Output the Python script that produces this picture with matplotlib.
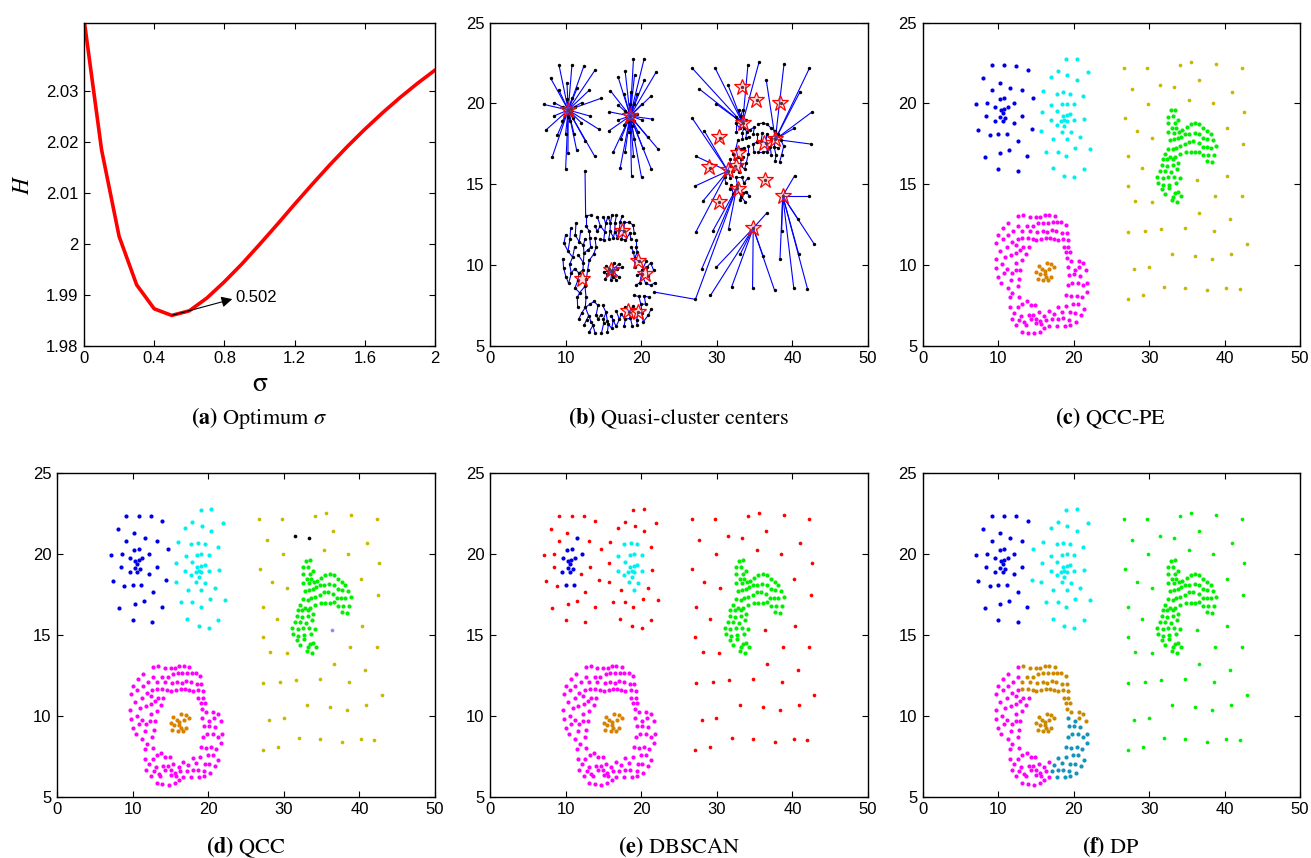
import numpy as np
import matplotlib
matplotlib.use("Agg")
import matplotlib.pyplot as plt

# ---------------- data ----------------
sigma = [0.0, 0.1, 0.2, 0.3, 0.4, 0.5, 0.6, 0.7, 0.8, 0.9, 1.0, 1.1, 1.2, 1.3, 1.4, 1.5, 1.6, 1.7, 1.8, 1.9, 2.0]
H = [2.0440, 2.0184, 2.0014, 1.9919, 1.9872, 1.9859, 1.9868, 1.9893, 1.9925, 1.9960, 1.9998,
     2.0037, 2.0077, 2.0116, 2.0154, 2.0190, 2.0224, 2.0256, 2.0286, 2.0314, 2.0340]
opt_sigma_label = "0.502"

blue_core = [(11.55, 20.97), (10.18, 20.27), (10.84, 20.31), (12.12, 20.04), (9.60, 19.77), (10.35, 19.59),
             (11.24, 19.77), (10.58, 19.38), (10.27, 19.15), (10.97, 19.11), (9.56, 18.89), (10.58, 18.89),
             (10.00, 18.12), (11.11, 18.12), (10.75, 19.65)]
blue_outer = [(9.12, 22.39), (10.84, 22.39), (12.43, 22.33), (13.89, 22.06), (8.01, 21.57), (10.18, 21.28),
              (9.12, 20.82), (13.14, 20.82), (7.08, 19.94), (8.50, 20.04), (8.45, 19.22), (13.19, 19.22),
              (12.08, 18.80), (7.35, 18.33), (8.89, 18.02), (12.61, 17.67), (10.31, 16.93), (11.46, 17.11),
              (8.23, 16.68), (13.85, 16.72), (10.00, 15.92), (12.57, 15.81)]
between = [(14.65, 20.31), (14.42, 18.39)]
cyan_core = [(17.74, 20.60), (18.63, 20.72), (19.51, 20.60), (16.99, 19.88), (18.50, 19.94), (19.07, 19.98),
             (20.04, 19.94), (17.83, 19.53), (18.54, 19.22), (19.07, 19.28), (19.51, 19.34), (16.95, 18.97),
             (17.74, 18.68), (18.32, 18.89), (18.76, 18.95), (19.07, 18.89), (20.09, 18.97), (18.72, 18.58),
             (18.41, 18.25), (19.60, 18.23), (19.07, 17.81)]
cyan_outer = [(18.98, 22.74), (20.40, 22.78), (17.88, 21.98), (19.12, 21.75), (21.95, 21.92), (16.95, 21.63),
              (20.40, 21.42), (15.93, 20.78), (21.24, 20.43), (15.75, 19.48), (21.42, 19.03), (15.71, 18.29),
              (20.84, 17.92), (17.30, 17.77), (16.33, 17.01), (17.88, 17.01), (18.98, 16.76), (20.22, 17.22),
              (22.21, 17.18), (17.21, 15.98), (18.72, 15.53), (20.04, 15.42), (21.33, 15.94)]
sparse = [(26.73, 22.19), (29.78, 22.19), (34.12, 22.39), (35.58, 22.54), (38.89, 22.43), (42.26, 22.19),
          (27.70, 20.89), (36.55, 21.42), (40.97, 20.68), (29.91, 19.98), (35.27, 20.23), (38.45, 20.04),
          (42.57, 19.46), (26.77, 19.07), (28.36, 18.29), (30.40, 17.88), (40.27, 18.47), (42.43, 17.48),
          (27.26, 16.72), (29.07, 16.02), (40.31, 15.53), (27.17, 14.89), (28.19, 13.96), (30.35, 13.86),
          (38.72, 14.27), (42.26, 14.27), (36.59, 13.20), (40.75, 12.82), (27.26, 12.06), (29.47, 12.10),
          (31.55, 12.21), (34.82, 12.27), (38.58, 12.10), (42.92, 11.26), (33.10, 10.66), (36.15, 10.52),
          (38.36, 10.39), (40.84, 10.66), (28.01, 9.75), (29.96, 9.86), (31.95, 8.62), (34.73, 8.56),
          (37.65, 8.41), (40.18, 8.56), (41.99, 8.52), (27.17, 7.86), (29.16, 8.10)]
sparse_black = [(31.50, 21.13), (33.27, 21.01)]
sparse_purple = [(36.33, 15.28)]
green = [(32.88, 19.57), (33.41, 19.61), (32.48, 19.18), (33.19, 19.20), (32.48, 18.78), (33.41, 18.78),
         (33.81, 18.97), (33.01, 18.49), (33.63, 18.49), (32.48, 18.23), (33.36, 18.19), (33.94, 18.25),
         (34.38, 18.37), (34.96, 18.52), (35.49, 18.74), (36.11, 18.78), (36.68, 18.70), (37.17, 18.47),
         (37.70, 18.27), (38.14, 18.08), (32.79, 17.73), (33.36, 17.79), (33.85, 17.84), (34.25, 17.94),
         (34.82, 18.08), (35.35, 18.08), (36.02, 18.16), (36.59, 18.10), (37.21, 17.84), (37.74, 17.77),
         (38.50, 17.71), (32.52, 17.20), (33.14, 17.18), (33.63, 17.26), (34.16, 17.38), (34.82, 17.48),
         (35.35, 17.63), (35.88, 17.69), (36.55, 17.53), (37.08, 17.28), (37.61, 17.28), (38.14, 17.26),
         (38.85, 17.34), (32.12, 16.87), (32.79, 16.66), (33.50, 16.68), (34.16, 16.85), (34.91, 16.97),
         (35.49, 16.99), (36.15, 16.99), (36.68, 17.01), (37.21, 16.78), (37.83, 16.78), (38.58, 16.82),
         (31.81, 16.56), (32.43, 16.56), (33.23, 16.56), (31.73, 16.19), (32.43, 16.10), (33.14, 16.16),
         (33.89, 16.29), (37.70, 16.43), (38.32, 16.39), (31.46, 15.81), (32.17, 15.81), (32.96, 15.77),
         (33.67, 15.92), (31.02, 15.42), (31.81, 15.38), (32.57, 15.42), (33.36, 15.42), (34.12, 15.38),
         (31.19, 15.09), (31.90, 14.93), (32.70, 14.97), (33.58, 15.05), (31.68, 14.70), (32.61, 14.74),
         (33.41, 14.47), (33.89, 14.52), (32.17, 14.41), (33.23, 14.23), (33.01, 14.04), (34.29, 14.27),
         (33.76, 13.90)]
ring_left = [(12.65, 13.05), (11.37, 12.56), (12.65, 12.41), (10.66, 12.25), (11.99, 12.10), (10.00, 11.86),
             (11.28, 11.84), (12.57, 11.61), (9.78, 11.34), (10.58, 11.59), (11.81, 11.42), (11.19, 11.09),
             (12.35, 11.22), (13.32, 11.09), (14.03, 11.09), (10.31, 10.85), (11.68, 10.60), (12.43, 10.72),
             (12.96, 10.93), (13.72, 10.66), (9.65, 10.37), (10.93, 10.47), (12.35, 10.14), (13.14, 10.29),
             (9.73, 9.81), (10.53, 10.02), (11.19, 9.77), (12.30, 9.69), (12.92, 9.69), (10.04, 9.26),
             (10.75, 9.48), (11.77, 9.48), (12.74, 9.11), (11.64, 9.07), (10.40, 8.85), (11.24, 8.56),
             (12.57, 8.68), (11.86, 8.27), (12.70, 8.00), (13.76, 7.73), (11.55, 7.98), (11.59, 7.36),
             (12.61, 7.36), (13.19, 7.55), (14.29, 7.48), (14.91, 7.48), (12.12, 7.01), (13.05, 6.85),
             (14.03, 6.87), (14.65, 6.91), (15.35, 7.05), (16.06, 6.85), (16.68, 7.15), (11.77, 6.66),
             (12.79, 6.60), (13.41, 6.43), (14.29, 6.64), (15.00, 6.64), (15.53, 6.49), (16.28, 6.56),
             (12.43, 6.25), (13.63, 6.25), (15.04, 6.37), (15.66, 6.31), (16.68, 6.19), (13.14, 5.86),
             (13.89, 5.77), (14.73, 5.75), (15.53, 5.86), (16.11, 6.06)]
ring_top = [(13.32, 13.07), (14.20, 12.97), (15.00, 12.97), (15.58, 12.97), (16.15, 13.11), (16.73, 13.11),
            (17.48, 13.01), (13.85, 12.41), (14.60, 12.41), (15.31, 12.56), (15.93, 12.62), (16.55, 12.62),
            (17.21, 12.66), (17.79, 12.66), (18.36, 12.66), (18.94, 12.45), (13.14, 12.10), (14.20, 12.10),
            (15.18, 12.04), (15.88, 12.10), (16.50, 12.06), (17.10, 12.14), (17.70, 12.10), (18.50, 11.96),
            (19.07, 11.96), (13.19, 11.67), (13.89, 11.67), (14.56, 11.59), (15.04, 11.53), (15.71, 11.59),
            (16.33, 11.69), (16.86, 11.69), (17.39, 11.59), (17.92, 11.53), (18.63, 11.61), (19.25, 11.53),
            (18.67, 11.09), (19.25, 11.09), (18.98, 10.80), (19.51, 10.80), (19.12, 10.41), (19.69, 10.21),
            (20.66, 10.21), (21.24, 10.12), (20.75, 9.84), (21.64, 9.67)]
ring_right = [(19.20, 9.84), (20.13, 9.69), (19.42, 9.38), (20.04, 9.40), (20.88, 9.32), (19.25, 8.72),
              (19.82, 8.89), (20.58, 8.87), (21.28, 8.72), (21.77, 8.89), (19.03, 8.10), (19.69, 8.04),
              (20.40, 8.08), (21.06, 7.98), (21.73, 8.31), (17.92, 7.40), (18.94, 7.44), (19.96, 7.55),
              (20.58, 7.57), (21.33, 7.28), (17.35, 6.93), (18.41, 7.09), (19.56, 7.05), (20.13, 7.01),
              (20.93, 6.87), (17.12, 6.62), (17.92, 6.64), (18.58, 6.68), (19.42, 6.60), (20.27, 6.47),
              (17.74, 6.23), (18.81, 6.23), (19.47, 6.25)]
core = [(15.35, 9.90), (16.42, 10.12), (17.04, 10.06), (17.43, 9.84), (15.04, 9.57), (15.80, 9.73),
        (16.15, 9.63), (16.77, 9.75), (15.49, 9.46), (16.15, 9.42), (17.04, 9.24), (15.22, 9.15),
        (15.97, 9.05), (16.64, 9.05), (16.33, 9.26)]

# quasi-cluster centres of panel (b)
centers = [(10.35, 19.57), (18.54, 19.22), (33.27, 21.03), (35.22, 20.23), (38.36, 20.04), (33.45, 18.78),
           (30.31, 17.90), (36.24, 17.57), (37.65, 17.77), (32.74, 16.95), (28.98, 16.04), (31.42, 15.90),
           (32.52, 16.12), (36.33, 15.28), (32.79, 14.68), (38.72, 14.29), (30.31, 13.86), (34.82, 12.27),
           (17.52, 12.12), (19.60, 10.21), (20.44, 9.40), (16.02, 9.65), (12.12, 9.11), (18.19, 7.11),
           (19.56, 7.05)]
# sparse centres that collect links from the sparse points (besides the green ones)
sparse_hubs = [(38.72, 14.29), (34.82, 12.27)]
extra_links = [((12.57, 15.81), (12.65, 13.05)), ((21.73, 8.31), (27.17, 7.86))]

# ---------------- style ----------------
plt.rcParams["mathtext.fontset"] = "stix"
TICKFONT = "Liberation Sans"
C_BLUE = "#0000e6"
C_CYAN = "#00f0f0"
C_YEL = "#c8b800"
C_GREEN = "#00ee00"
C_MAG = "#ff00ff"
C_ORANGE = "#d98200"
C_BROWN = "#c98a00"
C_TEAL = "#1593b8"
C_RED = "#ff0000"

W, Hpx = 1311, 858
fig = plt.figure(figsize=(W / 100, Hpx / 100), dpi=100)


def ax_at(l, t, r, b):
    return fig.add_axes([l / W, 1 - b / Hpx, (r - l) / W, (b - t) / Hpx])


def style(ax):
    ax.tick_params(direction="in", top=True, right=True, length=4, width=0.8, labelsize=12, pad=4)
    for lab in ax.get_xticklabels() + ax.get_yticklabels():
        lab.set_fontfamily(TICKFONT)
    for s in ax.spines.values():
        s.set_linewidth(1.0)


def scatter_axes(ax):
    ax.set_xlim(0, 50)
    ax.set_ylim(5, 25)
    ax.set_xticks([0, 10, 20, 30, 40, 50])
    ax.set_yticks([5, 10, 15, 20, 25])
    style(ax)


def title(xc, y, bold, rest):
    fig.text(xc / W, 1 - y / Hpx, r"$\mathbf{" + bold + "}$ " + rest, ha="center", va="center",
             fontsize=16, fontfamily="STIXGeneral")


def draw_groups(ax, groups):
    for pts, col, sz in groups:
        a = np.array(pts)
        ax.scatter(a[:, 0], a[:, 1], s=sz, c=col, linewidths=0, zorder=3)


top_t, top_b = 22.7, 345.5
bot_t, bot_b = 473.3, 796.7

# ---- (a) ----
ax = ax_at(84, top_t, 435, top_b)
ax.plot(sigma, H, color="red", lw=2.6)
ax.set_xlim(0, 2)
ax.set_ylim(1.98, 2.0433)
ax.set_xticks([0, 0.4, 0.8, 1.2, 1.6, 2])
ax.set_xticklabels(["0", "0.4", "0.8", "1.2", "1.6", "2"])
ax.set_yticks([1.98, 1.99, 2.0, 2.01, 2.02, 2.03])
ax.set_yticklabels(["1.98", "1.99", "2", "2.01", "2.02", "2.03"])
style(ax)
imin = int(np.argmin(H))
ax.annotate("", xy=(0.845, 1.9891), xytext=(sigma[imin], H[imin]),
            arrowprops=dict(arrowstyle="-|>", color="k", lw=0.8, mutation_scale=16, shrinkA=0, shrinkB=0))
ax.text(0.865, 1.9894, opt_sigma_label, va="center", ha="left", fontsize=12, fontfamily=TICKFONT)
fig.text(259.5 / W, 1 - 384 / Hpx, "σ", ha="center", va="center", fontsize=20, fontfamily="STIXGeneral")
fig.text(22 / W, 1 - 185 / Hpx, r"$H$", ha="center", va="center", fontsize=17, rotation=90)
title(259.5, 418, "(a)", r"Optimum $\sigma$")

# ---- (b) ----
ax = ax_at(490, top_t, 868, top_b)
scatter_axes(ax)
groups_b = [("blue", blue_core + blue_outer + between), ("cyan", cyan_core + cyan_outer),
            ("sparse", sparse + sparse_black + sparse_purple), ("green", green),
            ("ring", ring_left + ring_top + ring_right), ("core", core)]
P = []
G = []
for name, pts in groups_b:
    P += pts
    G += [name] * len(pts)
P = np.array(P)
G = np.array(G)
D = np.sqrt(((P[:, None, :] - P[None, :, :]) ** 2).sum(-1))


def nearest(pt):
    return int(np.argmin(((P - np.array(pt)) ** 2).sum(1)))


cidx = [nearest(c) for c in centers]
hubs = [nearest(c) for c in sparse_hubs]
parent = np.full(len(P), -1)
for i in range(len(P)):
    if i in cidx:
        continue
    g = G[i]
    if g in ("blue", "cyan", "core"):
        cs = [c for c in cidx if G[c] == g]
        parent[i] = cs[0]
    elif g == "sparse":
        cs = [c for c in cidx if G[c] == "green"] + hubs
        parent[i] = cs[int(np.argmin(D[i, cs]))]
    else:
        cs = [c for c in cidx if G[c] == g]
        c = cs[int(np.argmin(D[i, cs]))]
        cand = [q for q in range(len(P)) if G[q] == g and D[q, c] < D[i, c]]
        parent[i] = cand[int(np.argmin(D[i, cand]))]
for a_, b_ in extra_links:
    parent[nearest(a_)] = nearest(b_)
for i in range(len(P)):
    if parent[i] >= 0:
        j = parent[i]
        ax.plot([P[i, 0], P[j, 0]], [P[i, 1], P[j, 1]], color="#0000ff", lw=0.8, zorder=2)
ax.scatter(P[:, 0], P[:, 1], s=6, c="k", linewidths=0, zorder=3)
cen = np.array(centers)
ax.plot(cen[:, 0], cen[:, 1], ls="none", marker="*", ms=12, mfc=(1, 0.6, 0.6, 0.35), mec="red", mew=0.9, zorder=4)
title(679, 418, "(b)", "Quasi-cluster centers")

S_BIG, S_SMALL = 9, 7
all_ring = ring_left + ring_top + ring_right
all_sparse = sparse + sparse_black + sparse_purple

# ---- (c) QCC-PE ----
ax = ax_at(922.7, top_t, 1300, top_b)
scatter_axes(ax)
draw_groups(ax, [(blue_core + blue_outer + between, C_BLUE, S_BIG), (cyan_core + cyan_outer, C_CYAN, S_BIG),
                 (all_sparse, C_YEL, S_SMALL), (green, C_GREEN, S_BIG),
                 (all_ring, C_MAG, S_BIG), (core, C_ORANGE, S_BIG)])
title(1111, 418, "(c)", "QCC-PE")

# ---- (d) QCC ----
ax = ax_at(57.3, bot_t, 435, bot_b)
scatter_axes(ax)
draw_groups(ax, [(blue_core + blue_outer + between, C_BLUE, S_BIG), (cyan_core + cyan_outer, C_CYAN, S_BIG),
                 (sparse, C_YEL, S_SMALL), (sparse_black, "k", S_SMALL), (sparse_purple, "#8c8cf0", S_SMALL),
                 (green, C_GREEN, S_BIG), (all_ring, C_MAG, S_BIG), (core, C_ORANGE, S_BIG)])
title(246, 847, "(d)", "QCC")

# ---- (e) DBSCAN ----
ax = ax_at(490, bot_t, 868, bot_b)
scatter_axes(ax)
draw_groups(ax, [(blue_outer + between + cyan_outer + all_sparse, C_RED, S_SMALL),
                 (blue_core, C_BLUE, S_BIG), (cyan_core, C_CYAN, S_BIG), (green, C_GREEN, S_BIG),
                 (all_ring, C_MAG, S_BIG), (core, C_ORANGE, S_BIG)])
title(679, 847, "(e)", "DBSCAN")

# ---- (f) DP ----
ax = ax_at(922.7, bot_t, 1300, bot_b)
scatter_axes(ax)
draw_groups(ax, [(blue_core + blue_outer, C_BLUE, S_BIG), (between + cyan_core + cyan_outer, C_CYAN, S_BIG),
                 (all_sparse, C_GREEN, S_SMALL), (green, C_GREEN, S_BIG),
                 (ring_left, C_MAG, S_BIG), (ring_top + core, C_BROWN, S_BIG), (ring_right, C_TEAL, S_BIG)])
title(1111, 847, "(f)", "DP")

fig.savefig("out.png", dpi=100)
